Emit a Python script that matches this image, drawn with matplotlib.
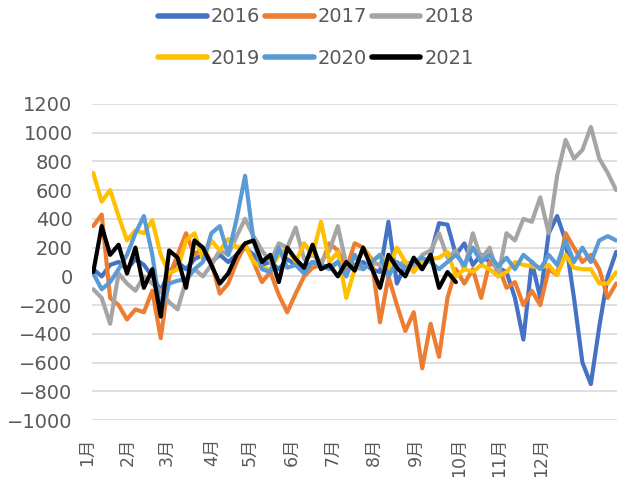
import numpy as np
import matplotlib
matplotlib.use("Agg")
import matplotlib.pyplot as plt
import matplotlib.transforms as mtransforms

plt.rcParams['font.family'] = ['DejaVu Sans', 'Noto Sans CJK SC']

# values, roughly one point every ~0.2 month
s2016 = [50, 0, 80, 100, 50, 120, 80, 0, -100, 30,
         100, 50, 120, 150, 100, 150, 100, 150, 200, 150,
         80, 100, 50, 120, 80, 50, 100, 80, 60, 100,
         50, 80, 100, 50, 30, 380, -50, 80, 100, 50,
         150, 370, 360, 150, 230, 80, 150, 100, 60, 30,
         -150, -440, 100, -150, 300, 420, 250, -150, -600, -750,
         -350, 0, 170]
s2017 = [350, 430, -150, -200, -300, -230, -250, -100, -430, 0,
         150, 300, 150, 200, 100, -120, -50, 100, 220, 100,
         -40, 30, -130, -250, -120, 0, 60, 80, 230, 180,
         50, 230, 200, 120, -320, 0, -200, -380, -250, -640,
         -330, -560, -150, 50, -50, 50, -150, 100, 80, -80,
         -40, -200, -100, -200, 50, 10, 300, 200, 100, 150,
         50, -150, -50]
s2018 = [-90, -150, -330, 20, -50, -100, 0, -50, -100, -180,
         -230, -30, 50, 0, 80, 180, 150, 280, 400, 280,
         180, 100, 230, 200, 340, 120, 150, 100, 180, 350,
         80, 60, 50, 100, 80, 30, 80, 100, 60, 150,
         180, 300, 130, 180, 50, 300, 120, 200, 0, 300,
         250, 400, 380, 550, 300, 700, 950, 820, 880, 1040,
         820, 720, 600]
s2019 = [720, 520, 600, 420, 250, 320, 300, 390, 150, 20,
         50, 250, 300, 120, 250, 180, 260, 200, 220, 100,
         60, 50, 150, 200, 100, 230, 150, 380, 100, 170,
         -150, 50, 200, 100, 150, 60, 200, 100, 30, 100,
         120, 130, 170, 0, 50, 30, 80, 50, 0, 30,
         100, 80, 70, 60, 80, 10, 150, 60, 50, 50,
         -50, -50, 30]
s2020 = [20, -90, -40, 50, 150, 300, 420, 150, -250, -50,
         -30, -20, 50, 100, 300, 350, 150, 400, 700, 250,
         50, 30, 200, 60, 80, 20, 100, 80, 50, 100,
         0, 150, 50, 100, 150, 0, 100, 50, 100, 130,
         100, 50, 100, 150, 80, 200, 100, 150, 70, 130,
         50, 150, 100, 50, 150, 80, 250, 100, 200, 100,
         250, 280, 250]
s2021 = [30, 350, 150, 220, 20, 200, -80, 50, -280, 180,
         130, -80, 250, 200, 80, -50, 20, 150, 230, 250,
         100, 150, -40, 200, 120, 60, 220, 50, 80, 0,
         100, 40, 200, 60, -80, 150, 60, 0, 130, 50,
         150, -80, 30, -40]

years = ['2016', '2017', '2018', '2019', '2020', '2021']
colors = ['#4472C4', '#ED7D31', '#A5A5A5', '#FFC000', '#5B9BD5', '#000000']
series = [s2016, s2017, s2018, s2019, s2020, s2021]

month_labels = ['1月', '2月', '3月', '4月', '5月', '6月',
                '7月', '8月', '9月', '10月', '11月', '12月']
month_pos = [-0.7, 4.1, 8.75, 14.05, 18.55, 23.5, 28.4, 33.3, 38.3, 43.4, 48.1, 53.1]

fig = plt.figure(figsize=(6.22, 4.86), dpi=100)
ax = fig.add_axes([92 / 622, 1 - 420 / 486, 525 / 622, 316 / 486])

lines = []
for name, vals, c in zip(years, series, colors):
    ln, = ax.plot(np.arange(len(vals)), vals, color=c, lw=3.0,
                  solid_joinstyle='round', solid_capstyle='round', label=name)
    lines.append(ln)

ax.set_ylim(-1000, 1200)
ax.set_yticks(np.arange(-1000, 1201, 200))
ax.set_xlim(-0.15, 62.1)
ax.set_xticks([])
ax.grid(axis='y', color='#D9D9D9', lw=1.2)
ax.set_axisbelow(True)
for sp in ax.spines.values():
    sp.set_visible(False)
ax.tick_params(axis='y', length=0, pad=14, labelsize=14, labelcolor='#595959')

trans = mtransforms.blended_transform_factory(ax.transData, ax.transAxes)
for p, lab in zip(month_pos, month_labels):
    ax.text(p, -0.055, lab, transform=trans, rotation=90, ha='center', va='top',
            fontsize=12.5, color='#595959', clip_on=False)

order = [0, 3, 1, 4, 2, 5]
leg = fig.legend([lines[i] for i in order], [years[i] for i in order],
                 loc='center', bbox_to_anchor=(316 / 622, 1 - 37.5 / 486), ncol=3,
                 frameon=False, fontsize=14, handlelength=2.5, handletextpad=0.2,
                 columnspacing=0.25, labelspacing=1.15)
for t in leg.get_texts():
    t.set_color('#595959')
for h in leg.legend_handles:
    h.set_linewidth(4)

fig.savefig('out.png', dpi=100)
